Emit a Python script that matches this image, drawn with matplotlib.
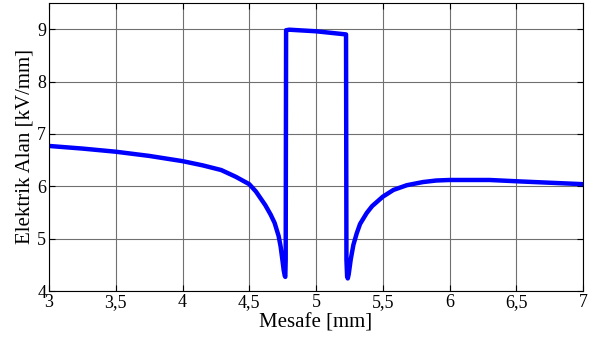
import matplotlib
matplotlib.use("Agg")
import matplotlib.pyplot as plt

plt.rcParams["font.family"] = ["Liberation Serif", "DejaVu Serif"]

# distance [mm] and electric field [kV/mm]
mesafe = [3.0, 3.25, 3.5, 3.75, 4.0, 4.15, 4.29, 4.4, 4.5, 4.55, 4.62, 4.66,
          4.69, 4.72, 4.735, 4.748, 4.758, 4.766, 4.770, 4.773, 4.776,
          4.8, 5.0, 5.225, 5.228, 5.233, 5.238, 5.245, 5.26, 5.28, 5.305,
          5.33, 5.38, 5.42, 5.5, 5.58, 5.68, 5.8, 5.9, 6.0, 6.3, 6.55, 7.0]
alan = [6.77, 6.72, 6.66, 6.58, 6.48, 6.40, 6.31, 6.18, 6.04, 5.90, 5.64, 5.46,
        5.30, 5.05, 4.85, 4.60, 4.40, 4.29, 4.27, 4.60, 8.98,
        8.99, 8.96, 8.90, 4.60, 4.28, 4.24, 4.32, 4.60, 4.88, 5.10,
        5.28, 5.49, 5.62, 5.80, 5.93, 6.02, 6.08, 6.11, 6.12, 6.12, 6.09, 6.04]

xticks = [3, 3.5, 4, 4.5, 5, 5.5, 6, 6.5, 7]
xlabels = ["3", "3,5", "4", "4,5", "5", "5,5", "6", "6,5", "7"]
yticks = [4, 5, 6, 7, 8, 9]

fig = plt.figure(figsize=(5.93, 3.38), dpi=100)
ax = fig.add_axes([49 / 593, 47 / 338, 534 / 593, 288 / 338])

ax.plot(mesafe, alan, color="#0000ff", linewidth=3.2,
        solid_joinstyle="round", solid_capstyle="round")

ax.set_xlim(3, 7)
ax.set_ylim(4, 9.5)
ax.set_xticks(xticks)
ax.set_xticklabels(xlabels)
ax.set_yticks(yticks)
ax.grid(True, color="#707070", linewidth=0.8)
ax.tick_params(direction="in", top=True, right=True, labelsize=13, pad=2, length=4)
for s in ax.spines.values():
    s.set_linewidth(0.8)

ax.set_xlabel("Mesafe [mm]", fontsize=15, labelpad=2)
ax.set_ylabel("Elektrik Alan [kV/mm]", fontsize=15, labelpad=2)

fig.savefig("out.png", dpi=100)
